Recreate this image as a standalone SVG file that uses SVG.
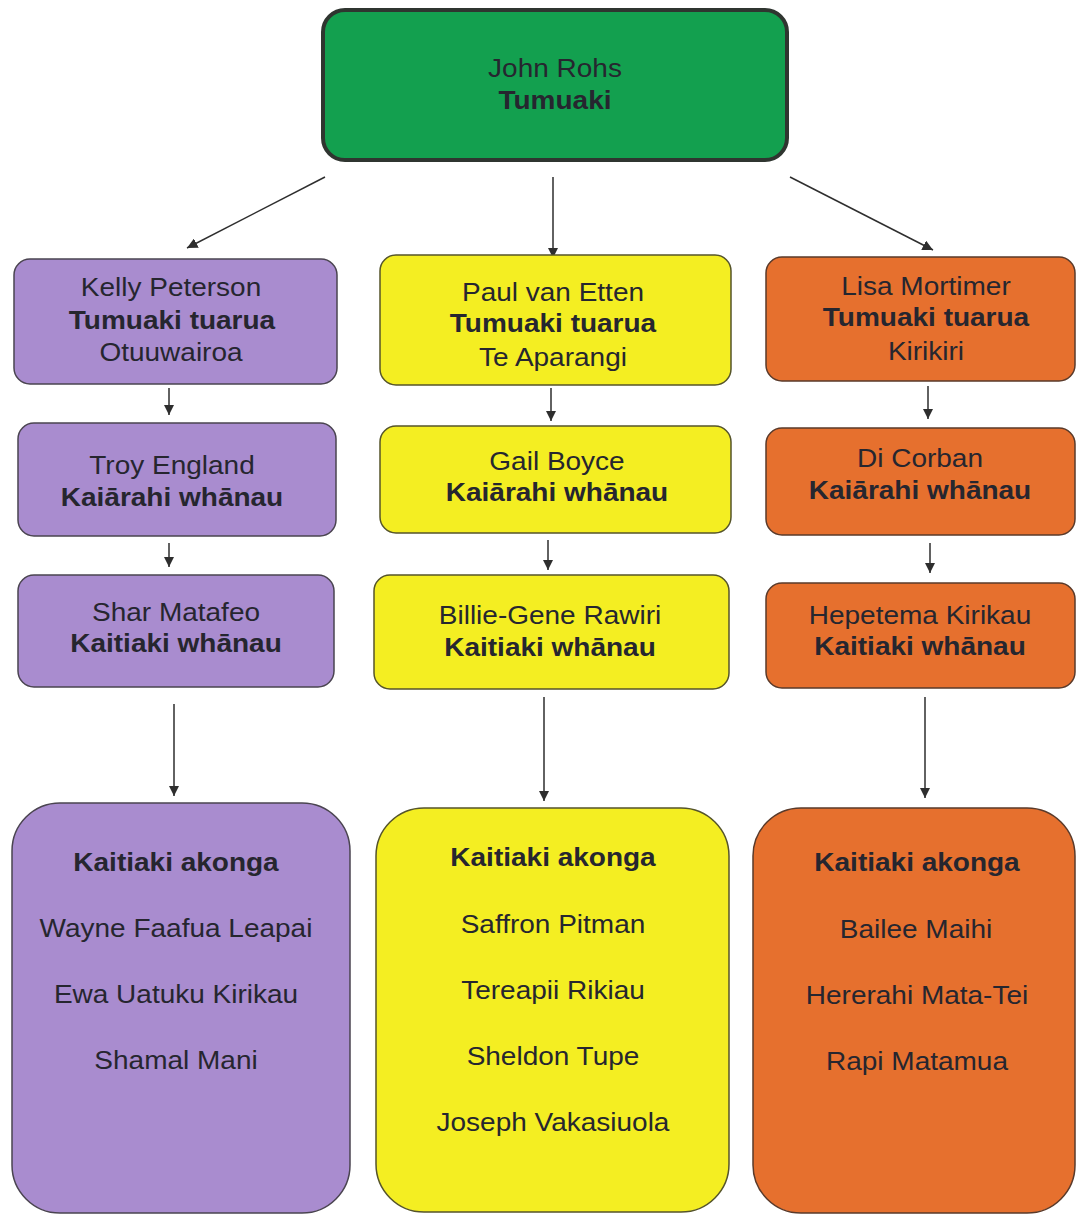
<svg xmlns="http://www.w3.org/2000/svg" width="1077" height="1215" viewBox="0 0 1077 1215">
<style>
.t{font-family:"Liberation Sans",Arial,sans-serif;font-size:25px;fill:#26262f;text-anchor:middle}
.b{font-weight:bold}
.p{fill:#a98ccf;stroke:#4a4450;stroke-width:1.5}
.y{fill:#f4ee22;stroke:#55542a;stroke-width:1.5}
.o{fill:#e6702e;stroke:#5a3a2a;stroke-width:1.5}
.c{stroke:#2e2e2e;stroke-width:1.5;fill:none;marker-end:url(#ah)}
</style>
<defs>
<marker id="ah" viewBox="0 0 10 10" refX="10" refY="5" markerWidth="7" markerHeight="7" orient="auto" markerUnits="strokeWidth">
<path d="M0,0 L10,5 L0,10 z" fill="#2e2e2e"/>
</marker>
</defs>
<rect width="1077" height="1215" fill="#ffffff"/>
<g id="connectors">
<line class="c" x1="325" y1="177" x2="187" y2="248"/>
<line class="c" x1="553" y1="177" x2="553" y2="258"/>
<line class="c" x1="790" y1="177" x2="933" y2="250"/>
<line class="c" x1="169" y1="388" x2="169" y2="415"/>
<line class="c" x1="169" y1="543" x2="169" y2="567"/>
<line class="c" x1="174" y1="704" x2="174" y2="796"/>
<line class="c" x1="551" y1="388" x2="551" y2="421"/>
<line class="c" x1="548" y1="540" x2="548" y2="570"/>
<line class="c" x1="544" y1="697" x2="544" y2="801"/>
<line class="c" x1="928" y1="386" x2="928" y2="419"/>
<line class="c" x1="930" y1="543" x2="930" y2="573"/>
<line class="c" x1="925" y1="697" x2="925" y2="798"/>
</g>
<g id="n-john">
<rect x="323" y="10" width="464" height="150" rx="22" fill="#13a04f" stroke="#2f3530" stroke-width="4"/>
<text class="t" transform="translate(555,77) scale(1.12,1)">John Rohs</text>
<text class="t b" transform="translate(555,109) scale(1.12,1)">Tumuaki</text>
</g>
<g id="n-kelly">
<rect class="p" x="14" y="259" width="323" height="125" rx="16"/>
<text class="t" transform="translate(171,296) scale(1.12,1)">Kelly Peterson</text>
<text class="t b" transform="translate(172,329) scale(1.12,1)">Tumuaki tuarua</text>
<text class="t" transform="translate(171,361) scale(1.12,1)">Otuuwairoa</text>
</g>
<g id="n-troy">
<rect class="p" x="18" y="423" width="318" height="113" rx="16"/>
<text class="t" transform="translate(172,474) scale(1.12,1)">Troy England</text>
<text class="t b" transform="translate(172,506) scale(1.12,1)">Kaiārahi whānau</text>
</g>
<g id="n-shar">
<rect class="p" x="18" y="575" width="316" height="112" rx="16"/>
<text class="t" transform="translate(176,621) scale(1.12,1)">Shar Matafeo</text>
<text class="t b" transform="translate(176,652) scale(1.12,1)">Kaitiaki whānau</text>
</g>
<g id="n-purple-akonga">
<rect class="p" x="12" y="803" width="338" height="410" rx="48"/>
<text class="t b" transform="translate(176,871) scale(1.12,1)">Kaitiaki akonga</text>
<text class="t" transform="translate(176,937) scale(1.12,1)">Wayne Faafua Leapai</text>
<text class="t" transform="translate(176,1003) scale(1.12,1)">Ewa Uatuku Kirikau</text>
<text class="t" transform="translate(176,1069) scale(1.12,1)">Shamal Mani</text>
</g>
<g id="n-paul">
<rect class="y" x="380" y="255" width="351" height="130" rx="16"/>
<text class="t" transform="translate(553,301) scale(1.12,1)">Paul van Etten</text>
<text class="t b" transform="translate(553,332) scale(1.12,1)">Tumuaki tuarua</text>
<text class="t" transform="translate(553,366) scale(1.12,1)">Te Aparangi</text>
</g>
<g id="n-gail">
<rect class="y" x="380" y="426" width="351" height="107" rx="16"/>
<text class="t" transform="translate(557,470) scale(1.12,1)">Gail Boyce</text>
<text class="t b" transform="translate(557,501) scale(1.12,1)">Kaiārahi whānau</text>
</g>
<g id="n-billie">
<rect class="y" x="374" y="575" width="355" height="114" rx="16"/>
<text class="t" transform="translate(550,624) scale(1.12,1)">Billie-Gene Rawiri</text>
<text class="t b" transform="translate(550,656) scale(1.12,1)">Kaitiaki whānau</text>
</g>
<g id="n-yellow-akonga">
<rect class="y" x="376" y="808" width="353" height="404" rx="48"/>
<text class="t b" transform="translate(553,866) scale(1.12,1)">Kaitiaki akonga</text>
<text class="t" transform="translate(553,933) scale(1.12,1)">Saffron Pitman</text>
<text class="t" transform="translate(553,999) scale(1.12,1)">Tereapii Rikiau</text>
<text class="t" transform="translate(553,1065) scale(1.12,1)">Sheldon Tupe</text>
<text class="t" transform="translate(553,1131) scale(1.12,1)">Joseph Vakasiuola</text>
</g>
<g id="n-lisa">
<rect class="o" x="766" y="257" width="309" height="124" rx="16"/>
<text class="t" transform="translate(926,295) scale(1.12,1)">Lisa Mortimer</text>
<text class="t b" transform="translate(926,326) scale(1.12,1)">Tumuaki tuarua</text>
<text class="t" transform="translate(926,360) scale(1.12,1)">Kirikiri</text>
</g>
<g id="n-di">
<rect class="o" x="766" y="428" width="309" height="107" rx="16"/>
<text class="t" transform="translate(920,467) scale(1.12,1)">Di Corban</text>
<text class="t b" transform="translate(920,499) scale(1.12,1)">Kaiārahi whānau</text>
</g>
<g id="n-hepetema">
<rect class="o" x="766" y="583" width="309" height="105" rx="16"/>
<text class="t" transform="translate(920,624) scale(1.12,1)">Hepetema Kirikau</text>
<text class="t b" transform="translate(920,655) scale(1.12,1)">Kaitiaki whānau</text>
</g>
<g id="n-orange-akonga">
<rect class="o" x="753" y="808" width="322" height="405" rx="48"/>
<text class="t b" transform="translate(917,871) scale(1.12,1)">Kaitiaki akonga</text>
<text class="t" transform="translate(916,938) scale(1.12,1)">Bailee Maihi</text>
<text class="t" transform="translate(917,1004) scale(1.12,1)">Hererahi Mata-Tei</text>
<text class="t" transform="translate(917,1070) scale(1.12,1)">Rapi Matamua</text>
</g>
</svg>
